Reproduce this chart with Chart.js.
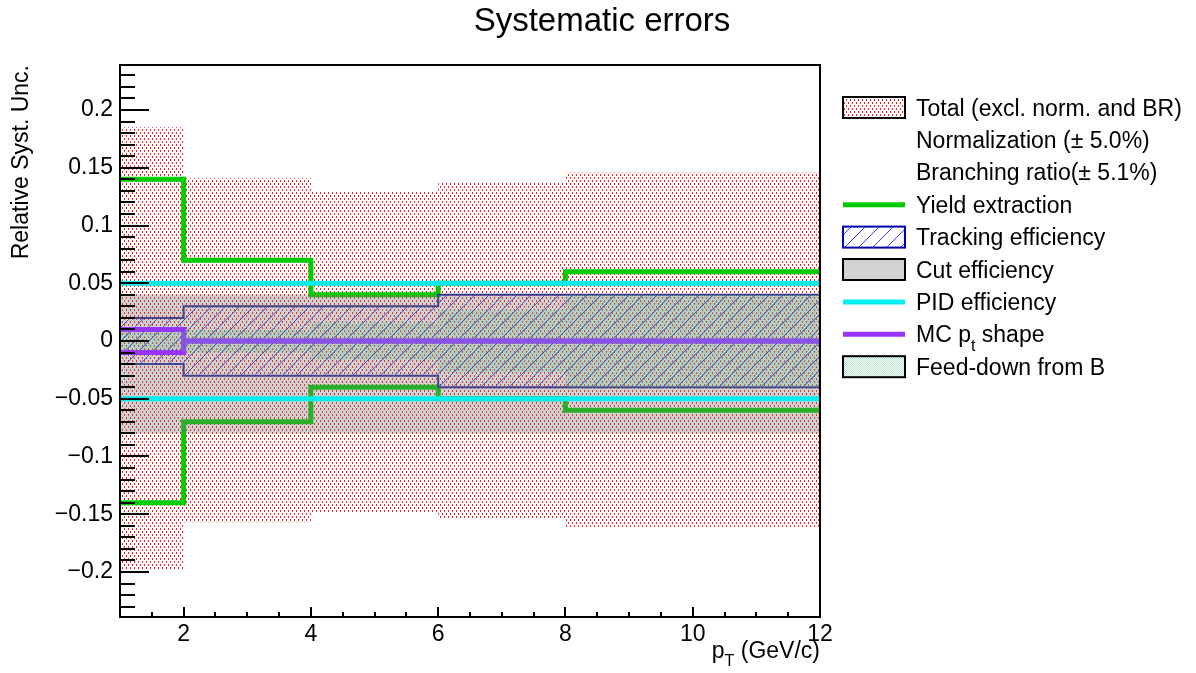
<!DOCTYPE html>
<html>
<head>
<meta charset="utf-8">
<title>Systematic errors</title>
<script src="https://cdn.jsdelivr.net/npm/chart.js@4/dist/chart.umd.min.js"></script>
<style>
  html, body { margin: 0; padding: 0; background: #fff; }
  canvas { display: block; }
</style>
</head>
<body>
<canvas id="systChart" width="1196" height="673"></canvas>
<script>
// --- data (relative uncertainties per pT bin) ---
const binEdges = [1, 2, 4, 6, 8, 12];
const totalUp = [0.185, 0.141, 0.129, 0.137, 0.146];
const totalDown = [0.198, 0.157, 0.148, 0.154, 0.161];
const yieldExtraction = [0.14, 0.07, 0.04, 0.05, 0.06];
const trackingEff = [0.02, 0.03, 0.03, 0.04, 0.04];
const cutEffUp = [0.04, 0.04, 0.04, 0.04, 0.04];
const cutEffDown = [0.08, 0.08, 0.08, 0.08, 0.08];
const pidEff = [0.05, 0.05, 0.05, 0.05, 0.05];
const mcPtShape = [0.01, 0, 0, 0, 0];
const feedDownB = [0.008, 0.01, 0.016, 0.027, 0.04];

const yTicks = [-0.2, -0.15, -0.1, -0.05, 0, 0.05, 0.1, 0.15, 0.2];
const xTicks = [2, 4, 6, 8, 10, 12];

const FONT = '"Liberation Sans", Arial, Helvetica, sans-serif';
const FS = 23;

// fill patterns, ROOT style
function makePattern(w, h, draw) {
  const c = document.createElement('canvas');
  c.width = w; c.height = h;
  const g = c.getContext('2d');
  draw(g);
  return g.createPattern(c, 'repeat');
}

const redDots = makePattern(4, 6, g => {
  g.fillStyle = '#ff1a1a';
  g.fillRect(0, 0, 1, 2);
  g.fillRect(2, 3, 1, 2);
});

const blueHatch = makePattern(14, 14, g => {
  g.strokeStyle = '#3c3cf0';
  g.lineWidth = 1;
  g.beginPath();
  g.moveTo(-1, 15); g.lineTo(15, -1);
  g.moveTo(-1, 1); g.lineTo(1, -1);
  g.moveTo(13, 15); g.lineTo(15, 13);
  g.stroke();
});

const greenChecker = makePattern(2, 2, g => {
  g.fillStyle = 'rgba(80,190,140,0.45)';
  g.fillRect(0, 0, 1, 1);
  g.fillRect(1, 1, 1, 1);
});

// turn per-bin values into step points
function steps(vals, sign) {
  const pts = [];
  vals.forEach((v, i) => {
    pts.push({ x: binEdges[i], y: sign * v });
    pts.push({ x: binEdges[i + 1], y: sign * v });
  });
  return pts;
}

const datasets = [];

function addBand(up, down, fillStyle, border, borderWidth, order) {
  datasets.push({
    data: steps(up, 1), fill: '+1', backgroundColor: fillStyle,
    borderColor: border || 'rgba(0,0,0,0)', borderWidth: borderWidth || 0, order: order
  });
  datasets.push({
    data: steps(down, -1), fill: false, backgroundColor: 'rgba(0,0,0,0)',
    borderColor: border || 'rgba(0,0,0,0)', borderWidth: borderWidth || 0, order: order
  });
}

function addLines(vals, color, width, order) {
  datasets.push({ data: steps(vals, 1), fill: false, borderColor: color, borderWidth: width, order: order });
  datasets.push({ data: steps(vals, -1), fill: false, borderColor: color, borderWidth: width, order: order });
}

addBand(totalUp, totalDown, redDots, null, 0, 10);
addLines(yieldExtraction, '#00cc00', 5, 9);
addBand(trackingEff, trackingEff, blueHatch, '#2a2a9a', 2, 8);
addBand(cutEffUp, cutEffDown, 'rgba(120,120,120,0.34)', null, 0, 7);
addLines(mcPtShape, '#9933ff', 5, 6);
addBand(feedDownB, feedDownB, greenChecker, null, 0, 5);
addLines(pidEff, '#00f0f0', 5, 4);

// legend rows
const legendItems = [
  { label: 'Total (excl. norm. and BR)', kind: 'box', fill: redDots, stroke: '#000' },
  { label: 'Normalization (\u00b1 5.0%)', kind: 'none' },
  { label: 'Branching ratio(\u00b1 5.1%)', kind: 'none' },
  { label: 'Yield extraction', kind: 'line', color: '#00cc00' },
  { label: 'Tracking efficiency', kind: 'box', fill: blueHatch, stroke: '#0000aa' },
  { label: 'Cut efficiency', kind: 'box', fill: '#d3d3d3', stroke: '#000' },
  { label: 'PID efficiency', kind: 'line', color: '#00f0f0' },
  { label: 'MC p|t| shape', kind: 'line', color: '#9933ff' },
  { label: 'Feed-down from B', kind: 'box', fill: greenChecker, stroke: '#000' }
];

function fmtTick(v) {
  if (v === 0) return '0';
  return (v < 0 ? '\u2212' : '') + String(Math.abs(v));
}

// text with a |subscript| part
function drawSubText(ctx, text, x, y, size) {
  const parts = text.split('|');
  let cx = x;
  parts.forEach((p, i) => {
    if (i % 2 === 1) {
      ctx.font = (size * 0.7) + 'px ' + FONT;
      ctx.fillText(p, cx, y + size * 0.36);
    } else {
      ctx.font = size + 'px ' + FONT;
      ctx.fillText(p, cx, y);
    }
    cx += ctx.measureText(p).width;
  });
}

const rootFrame = {
  id: 'rootFrame',
  afterDraw(chart) {
    const { ctx, chartArea: a, scales: { x, y } } = chart;
    ctx.save();
    ctx.strokeStyle = '#000';
    ctx.fillStyle = '#000';
    ctx.lineWidth = 2;

    // y ticks, inside the frame
    ctx.beginPath();
    for (let i = -23; i <= 23; i++) {
      const py = Math.round(y.getPixelForValue(i / 100));
      const len = i % 5 === 0 ? 29 : 15;
      ctx.moveTo(a.left, py); ctx.lineTo(a.left + len, py);
    }
    // x ticks
    for (let v = 1.5; v < 12; v += 0.5) {
      const px = Math.round(x.getPixelForValue(v));
      const len = v % 2 === 0 ? 10 : 5;
      ctx.moveTo(px, a.bottom); ctx.lineTo(px, a.bottom - len);
    }
    ctx.stroke();

    ctx.strokeRect(a.left, a.top, a.right - a.left, a.bottom - a.top);

    // tick labels
    ctx.font = FS + 'px ' + FONT;
    ctx.textAlign = 'right';
    ctx.textBaseline = 'middle';
    yTicks.forEach(v => ctx.fillText(fmtTick(v), a.left - 7, y.getPixelForValue(v)));
    ctx.textAlign = 'center';
    ctx.textBaseline = 'top';
    xTicks.forEach(v => ctx.fillText(String(v), x.getPixelForValue(v), a.bottom + 6));

    // title
    ctx.font = '33px ' + FONT;
    ctx.textAlign = 'center';
    ctx.textBaseline = 'alphabetic';
    ctx.fillText('Systematic errors', 602, 31);

    // x title, right aligned at frame end
    ctx.textAlign = 'left';
    ctx.font = FS + 'px ' + FONT;
    const wRest = ctx.measureText(' (GeV/c)').width;
    const wP = ctx.measureText('p').width;
    ctx.font = (FS * 0.7) + 'px ' + FONT;
    const wT = ctx.measureText('T').width;
    drawSubText(ctx, 'p|T| (GeV/c)', a.right - wRest - wT - wP, 658, FS);

    // y title, rotated
    ctx.save();
    ctx.translate(28, a.top);
    ctx.rotate(-Math.PI / 2);
    ctx.font = FS + 'px ' + FONT;
    ctx.textAlign = 'right';
    ctx.fillText('Relative Syst. Unc.', 0, 0);
    ctx.restore();

    // legend
    ctx.textAlign = 'left';
    legendItems.forEach((it, i) => {
      const cy = 107.5 + i * 32.4;
      const bx = 843, bw = 62, bh = 21;
      if (it.kind === 'box') {
        ctx.fillStyle = it.fill;
        ctx.fillRect(bx, cy - bh / 2, bw, bh);
        ctx.strokeStyle = it.stroke;
        ctx.lineWidth = 2;
        ctx.strokeRect(bx, cy - bh / 2, bw, bh);
      } else if (it.kind === 'line') {
        ctx.strokeStyle = it.color;
        ctx.lineWidth = 5;
        ctx.beginPath();
        ctx.moveTo(bx, cy); ctx.lineTo(bx + bw, cy);
        ctx.stroke();
      }
      ctx.fillStyle = '#000';
      ctx.textBaseline = 'alphabetic';
      drawSubText(ctx, it.label, 916, cy + 8, FS);
    });
    ctx.restore();
  }
};

new Chart(document.getElementById('systChart'), {
  type: 'line',
  data: { datasets: datasets },
  options: {
    responsive: false,
    animation: false,
    devicePixelRatio: 1,
    layout: { padding: { left: 120, right: 376, top: 65, bottom: 56 } },
    elements: { point: { radius: 0 }, line: { tension: 0 } },
    plugins: {
      legend: { display: false },
      tooltip: { enabled: false },
      title: { display: false },
      filler: { propagate: false }
    },
    scales: {
      x: { type: 'linear', min: 1, max: 12, display: false },
      y: { type: 'linear', min: -0.239, max: 0.239, display: false }
    }
  },
  plugins: [rootFrame]
});
</script>
</body>
</html>
